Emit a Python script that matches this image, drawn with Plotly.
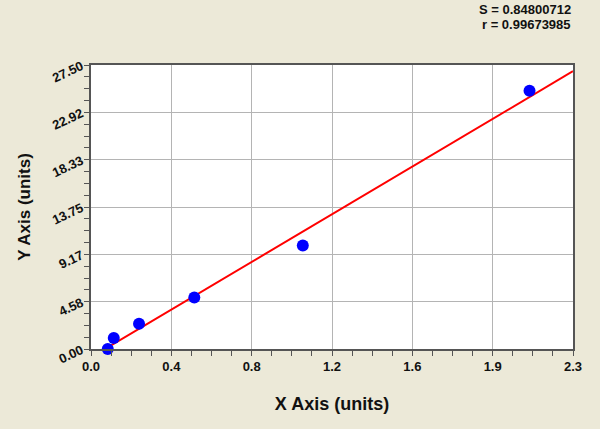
import numpy as np
import plotly.graph_objects as go

# Data
x_values = [0.081, 0.110, 0.232, 0.499, 1.023, 2.118]
y_values = [0.00, 1.06, 2.45, 4.99, 10.02, 25.01]

x_tick_vals = [0.0, 0.388, 0.776, 1.164, 1.552, 1.940, 2.328]
x_tick_text = ["0.0", "0.4", "0.8", "1.2", "1.6", "1.9", "2.3"]
y_tick_vals = [0.0, 4.5833, 9.1667, 13.75, 18.3333, 22.9167, 27.5]
y_tick_text = ["0.00", "4.58", "9.17", "13.75", "18.33", "22.92", "27.50"]

stat_s = "0.84800712"
stat_r = "0.99673985"

# Linear fit drawn across the full x range
slope, intercept = np.polyfit(x_values, y_values, 1)
fit_x = np.array([x_tick_vals[0], x_tick_vals[-1]])
fit_y = slope * fit_x + intercept

BG = "#ECE9D8"
FONT = "Liberation Sans, Arial, sans-serif"

fig = go.Figure()
fig.add_trace(go.Scatter(x=fit_x, y=fit_y, mode="lines",
                         line=dict(color="#FF0000", width=2), hoverinfo="skip"))
fig.add_trace(go.Scatter(x=x_values, y=y_values, mode="markers",
                         marker=dict(color="#0000FF", size=12, line=dict(width=0)),
                         cliponaxis=False))

axis_common = dict(
    showline=True, linecolor="#555555", linewidth=1.5, mirror=True,
    showgrid=True, gridcolor="#B4B4B4", gridwidth=1,
    ticks="outside", ticklen=5, tickcolor="#555555",
    zeroline=False, tickmode="array",
    tickfont=dict(family=FONT, size=13, color="#111111", weight="bold"),
)

fig.update_xaxes(
    **axis_common, range=[0, 2.328],
    tickvals=x_tick_vals, ticktext=x_tick_text,
    minor=dict(tickmode="linear", tick0=0, dtick=0.097, ticks="outside",
               ticklen=5, tickcolor="#555555", showgrid=False),
    title=dict(text="X Axis (units)", standoff=24,
               font=dict(family=FONT, size=18, color="#111111", weight="bold")),
)
fig.update_yaxes(
    **axis_common, range=[0, 27.5],
    tickvals=y_tick_vals, ticktext=y_tick_text, tickangle=-25,
    minor=dict(tickmode="linear", tick0=0, dtick=27.5 / 24, ticks="outside",
               ticklen=5, tickcolor="#555555", showgrid=False),
    title=dict(text="Y Axis (units)", standoff=15,
               font=dict(family=FONT, size=17, color="#111111", weight="bold")),
)

stat_lines = [f"S = {stat_s}", f"r = {stat_r}"]
for line_text, shift in zip(stat_lines, [56, 41]):
    fig.add_annotation(x=1, y=1, xref="paper", yref="paper", xanchor="right", yanchor="middle",
                       yshift=shift, showarrow=False, text=line_text,
                       font=dict(family=FONT, size=13, color="#111111", weight="bold"))

fig.update_layout(
    width=600, height=429,
    paper_bgcolor=BG, plot_bgcolor="#FFFFFF",
    margin=dict(l=91, r=27, t=65, b=80),
    showlegend=False,
)

fig.write_html("out.html", config={"displayModeBar": False},
               post_script="document.body.style.margin='0';")
